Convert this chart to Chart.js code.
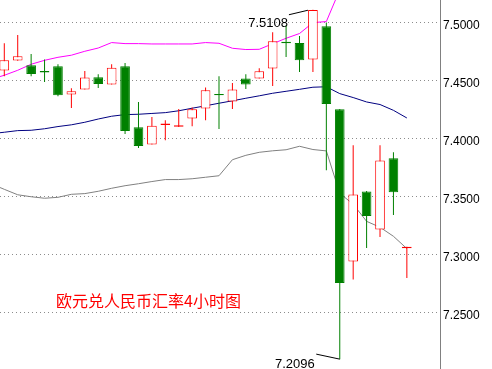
<!DOCTYPE html>
<html>
<head>
<meta charset="utf-8">
<title>欧元兑人民币汇率4小时图</title>
<script src="https://cdn.jsdelivr.net/npm/chart.js@4"></script>
<style>
  html, body { margin: 0; padding: 0; background: #fff; }
</style>
</head>
<body>
<canvas id="kChart" width="492" height="369"></canvas>
<script>
// K线数据 (4小时)
const opens  = [7.4584, 7.4670, 7.4629, 7.4580, 7.4621, 7.4377, 7.4420, 7.4526, 7.4463, 7.4621,
                7.4095, 7.3946, 7.4115, 7.4100, 7.4170, 7.4256, 7.4381, 7.4316, 7.4515, 7.4515,
                7.4601, 7.4832, 7.4822, 7.4678, 7.4966, 7.4250, 7.2937, 7.3541, 7.3213, 7.3828,
                7.3052];
const highs  = [7.4819, 7.4891, 7.4727, 7.4678, 7.4638, 7.4431, 7.4580, 7.4552, 7.4638, 7.4649,
                7.4313, 7.4184, 7.4155, 7.4253, 7.4265, 7.4437, 7.4534, 7.4477, 7.4552, 7.4603,
                7.4914, 7.4974, 7.4882, 7.5108, 7.4997, 7.4252, 7.3940, 7.3545, 7.3940, 7.3879,
                7.3064];
const lows   = [7.4534, 7.4668, 7.4534, 7.4485, 7.4362, 7.4261, 7.4420, 7.4434, 7.4463, 7.4037,
                7.3916, 7.3946, 7.3983, 7.4097, 7.4103, 7.4155, 7.4080, 7.4253, 7.4425, 7.4515,
                7.4451, 7.4701, 7.4572, 7.4572, 7.3724, 7.2096, 7.2782, 7.3054, 7.3149, 7.3339,
                7.2796];
const closes = [7.4672, 7.4707, 7.4554, 7.4568, 7.4371, 7.4405, 7.4523, 7.4468, 7.4609, 7.4063,
                7.3934, 7.4109, 7.4127, 7.4112, 7.4250, 7.4414, 7.4370, 7.4420, 7.4463, 7.4578,
                7.4836, 7.4820, 7.4672, 7.5106, 7.4296, 7.2753, 7.3515, 7.3330, 7.3808, 7.3534,
                7.3064];

// 布林带 (第一个值是画面左侧外面那根K线)
const bollUpper = [7.4509,
                   7.4543, 7.4586, 7.4638, 7.4672, 7.4698, 7.4716, 7.4750, 7.4778, 7.4825, 7.4816,
                   7.4816, 7.4813, 7.4813, 7.4813, 7.4813, 7.4825, 7.4819, 7.4776, 7.4765, 7.4767,
                   7.4815, 7.4862, 7.4903, 7.4997, 7.5006, 7.5280, 7.5271, 7.5342, 7.5349, 7.5327,
                   7.5301];
const bollMid   = [7.4039,
                   7.4052, 7.4066, 7.4069, 7.4082, 7.4101, 7.4116, 7.4138, 7.4166, 7.4190, 7.4204,
                   7.4207, 7.4214, 7.4221, 7.4237, 7.4259, 7.4280, 7.4302, 7.4323, 7.4345, 7.4366,
                   7.4388, 7.4405, 7.4422, 7.4440, 7.4444, 7.4385, 7.4351, 7.4313, 7.4291, 7.4241,
                   7.4175];
const bollLower = [7.3608,
                   7.3560, 7.3513, 7.3496, 7.3483, 7.3491, 7.3517, 7.3523, 7.3543, 7.3569, 7.3591,
                   7.3608, 7.3627, 7.3644, 7.3644, 7.3651, 7.3664, 7.3677, 7.3815, 7.3853, 7.3879,
                   7.3892, 7.3901, 7.3931, 7.3903, 7.3891, 7.3526, 7.3431, 7.3284, 7.3233, 7.3155,
                   7.3049];
const bollStart = -1;

// 右侧刻度
const tickVals = [7.25, 7.30, 7.35, 7.40, 7.45, 7.50];
const chartTitle = "欧元兑人民币汇率4小时图";

const upColor = "#ff0000";
const downColor = "#008000";

function isUp(i) {
  return closes[i] >= opens[i];
}

function toLine(arr) {
  return arr.map((v, i) => ({ x: i + bollStart, y: v }));
}

/**
 * 最高/最低点标注 + 标题
 */
const markPlugin = {
  id: "markPlugin",
  afterDatasetsDraw(chart) {
    const ctx = chart.ctx;
    const xs = chart.scales.x;
    const ys = chart.scales.y;
    const hi = highs.indexOf(Math.max(...highs));
    const lo = lows.indexOf(Math.min(...lows));

    ctx.save();
    ctx.font = '13px "Liberation Sans"';
    ctx.fillStyle = "#000";
    ctx.strokeStyle = "#000";
    ctx.lineWidth = 1;
    ctx.textAlign = "right";
    ctx.textBaseline = "alphabetic";

    // 最高点
    let px = xs.getPixelForValue(hi);
    let py = ys.getPixelForValue(highs[hi]);
    ctx.fillText(highs[hi].toFixed(4), px - 25, py + 17);
    ctx.beginPath();
    ctx.moveTo(px - 24, py + 5);
    ctx.lineTo(px - 5, py + 0.5);
    ctx.stroke();

    // 最低点
    px = xs.getPixelForValue(lo);
    py = ys.getPixelForValue(lows[lo]);
    ctx.fillText(lows[lo].toFixed(4), px - 25, py + 8.5);
    ctx.beginPath();
    ctx.moveTo(px - 23.5, py - 5);
    ctx.lineTo(px, py);
    ctx.stroke();

    // 标题
    ctx.font = '16px "Noto Sans CJK SC"';
    ctx.fillStyle = "#ff0000";
    ctx.textAlign = "left";
    ctx.textBaseline = "middle";
    ctx.fillText(chartTitle, 56, 301);
    ctx.restore();
  }
};

const ctxK = document.getElementById("kChart").getContext("2d");

const config = {
  type: "bar",
  data: {
    datasets: [
      {
        // 实体
        type: "bar",
        data: opens.map((o, i) => ({ x: i, y: [o, closes[i]] })),
        backgroundColor: opens.map((o, i) => isUp(i) ? "#ffffff" : downColor),
        borderColor: opens.map((o, i) => isUp(i) ? upColor : downColor),
        borderWidth: 1,
        borderSkipped: false,
        grouped: false,
        maxBarThickness: 11,
        minBarLength: 1,
        order: 0
      },
      {
        // 影线
        type: "bar",
        data: lows.map((l, i) => ({ x: i, y: [l, highs[i]] })),
        backgroundColor: lows.map((l, i) => isUp(i) ? upColor : downColor),
        borderWidth: 0,
        grouped: false,
        maxBarThickness: 1,
        inflateAmount: 0,
        order: 1
      },
      {
        type: "line",
        data: toLine(bollUpper),
        borderColor: "#ff00ff",
        borderWidth: 1,
        pointRadius: 0,
        tension: 0,
        order: 2
      },
      {
        type: "line",
        data: toLine(bollMid),
        borderColor: "#000080",
        borderWidth: 1,
        pointRadius: 0,
        tension: 0,
        order: 2
      },
      {
        type: "line",
        data: toLine(bollLower),
        borderColor: "#808080",
        borderWidth: 1,
        pointRadius: 0,
        tension: 0,
        order: 2
      }
    ]
  },
  options: {
    responsive: false,
    animation: false,
    devicePixelRatio: 1,
    layout: { padding: 0 },
    plugins: {
      legend: { display: false },
      tooltip: { enabled: false },
      title: { display: false }
    },
    scales: {
      x: {
        type: "linear",
        min: -0.32,
        max: 32.47,
        offset: false,
        display: false
      },
      y: {
        position: "right",
        min: 7.2011,
        max: 7.5192,
        afterBuildTicks: (scale) => {
          scale.ticks = tickVals.map(v => ({ value: v }));
        },
        afterFit: (scale) => {
          scale.width = 52;
          scale.paddingTop = 0;
          scale.paddingBottom = 0;
        },
        ticks: {
          padding: 3,
          labelOffset: 3,
          color: "#000",
          font: { family: "Liberation Sans", size: 12 },
          callback: (v) => Number(v).toFixed(4)
        },
        grid: {
          color: "#8c8c8c",
          drawTicks: false
        },
        border: {
          display: true,
          color: "#808080",
          dash: [1, 3]
        }
      }
    }
  },
  plugins: [markPlugin]
};

const kChart = new Chart(ctxK, config);
</script>
</body>
</html>
